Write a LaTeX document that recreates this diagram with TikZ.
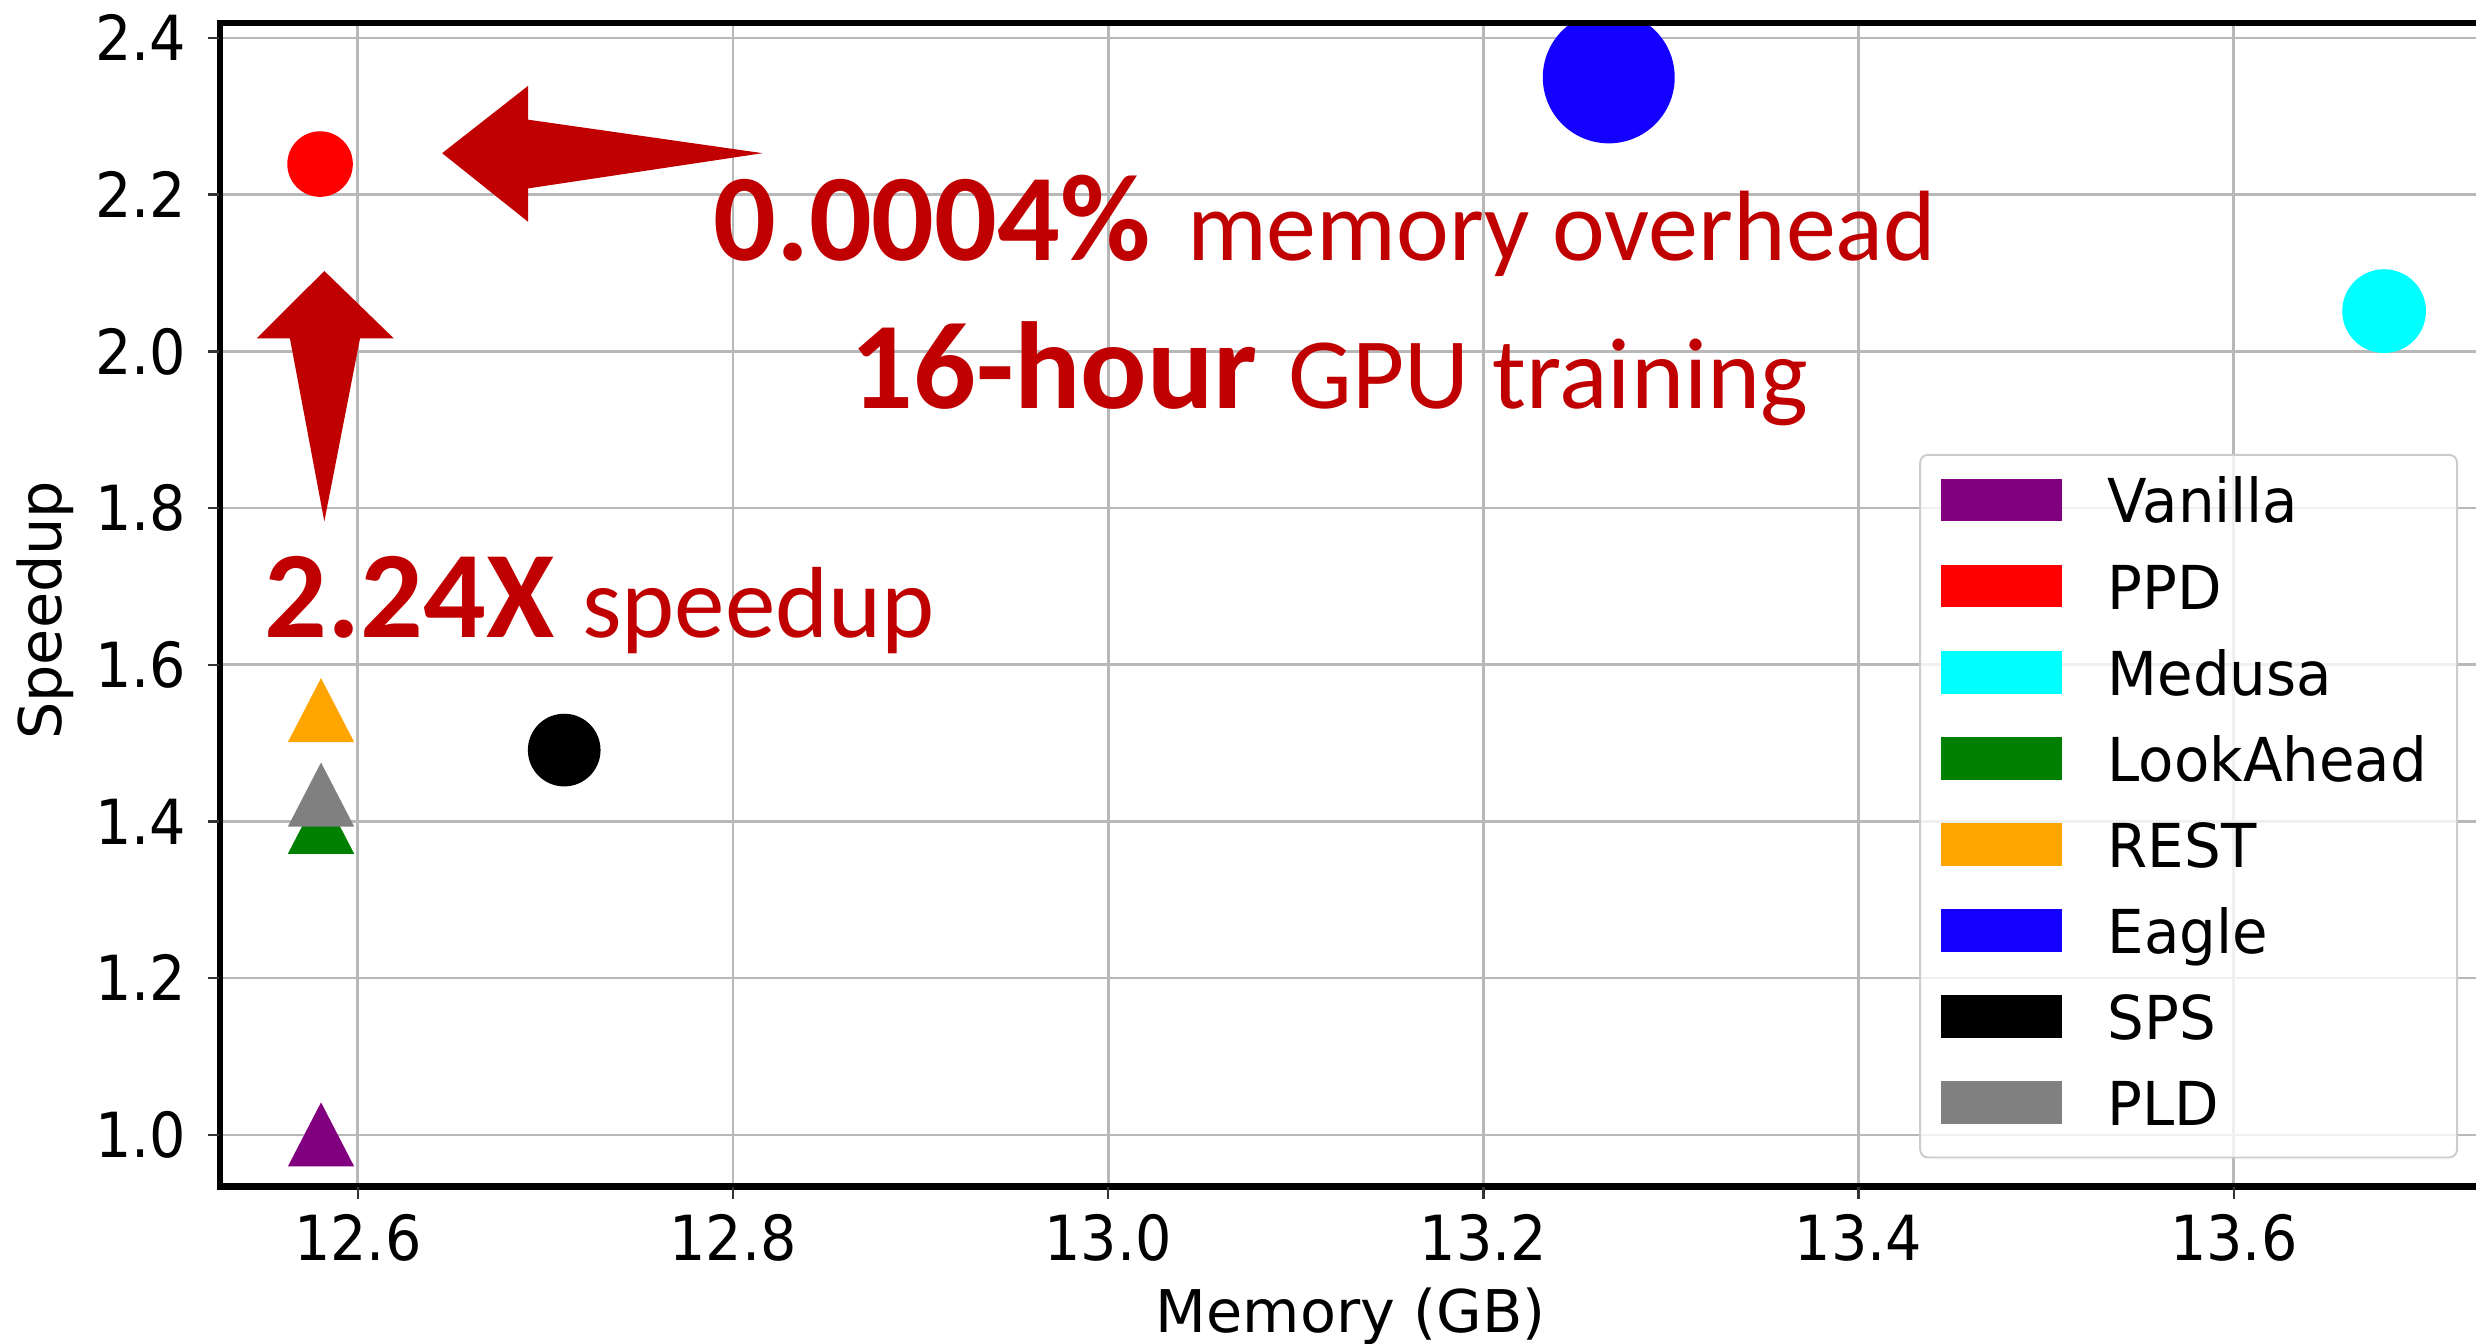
\documentclass[tikz,border=0pt]{standalone}
\usepackage{fontspec}
\setmainfont{DejaVu Sans}
\newfontfamily\tickfont[FakeStretch=0.92]{DejaVu Sans}
\newfontfamily\legfont[FakeStretch=0.955]{DejaVu Sans}
\newfontfamily\labfont{DejaVu Sans}
\newfontfamily\notefont{Carlito}

\definecolor{annot}{HTML}{C00000}
\definecolor{gridc}{HTML}{B8B8B8}
\definecolor{mplpurple}{HTML}{800080}
\definecolor{mplred}{HTML}{FF0000}
\definecolor{mplcyan}{HTML}{00FFFF}
\definecolor{mplgreen}{HTML}{008000}
\definecolor{mplorange}{HTML}{FFA500}
\definecolor{mplblue}{HTML}{1400FF}
\definecolor{mplblack}{HTML}{000000}
\definecolor{mplgray}{HTML}{808080}

\tikzset{
  gridline/.style={draw=gridc, line width=0.5pt},
  spine/.style={draw=black, line width=1.15pt},
  tickmark/.style={draw=black!80, line width=0.45pt},
  ticklabel/.style={inner sep=0pt, font=\tickfont\fontsize{11.2pt}{13pt}\selectfont},
  axlabel/.style={inner sep=0pt, font=\labfont\fontsize{10.6pt}{13pt}\selectfont},
  legtext/.style={inner sep=0pt, anchor=base west, font=\legfont\fontsize{10.9pt}{13pt}\selectfont},
  dot/.style={circle, inner sep=0pt, draw=none},
  note/.style={inner sep=0pt, anchor=base west, text=annot, font=\notefont},
}
\newcommand{\bignum}[1]{{\fontsize{22.3pt}{26pt}\selectfont\bfseries #1}}
\newcommand{\smalltxt}[1]{{\fontsize{18.2pt}{22pt}\selectfont #1}}

\begin{document}
\begin{tikzpicture}[x=0.01cm, y=-0.01cm]
  \useasboundingbox (0,0) rectangle (1568,851);
  \fill[white] (0,0) rectangle (1568,851);

  % plotting area: grid and markers are clipped to the axes
  \begin{scope}
    \clip (139.5,14.5) rectangle (1568,751.4);
    \foreach \gx in {226.6,464.2,701.8,939.4,1177,1414.6}
      \draw[gridline] (\gx,14.5) -- (\gx,751.4);
    \foreach \gy in {24,123.2,222.5,321.7,421,520.2,619.4,718.7}
      \draw[gridline] (139.5,\gy) -- (1568,\gy);

    % circle markers
    \node[dot, fill=mplred,   minimum size=0.415cm] (ppd)    at (202.7,103.9) {};
    \node[dot, fill=mplcyan,  minimum size=0.53cm]  (medusa) at (1509.8,197) {};
    \node[dot, fill=mplblue,  minimum size=0.835cm] (eagle)  at (1018.8,49) {};
    \node[dot, fill=mplblack, minimum size=0.46cm]  (sps)    at (357.3,475) {};

    % triangle markers
    \coordinate (vanilla)   at (203.3,718.4);
    \coordinate (lookahead) at (203.3,520.4);
    \coordinate (rest)      at (203.3,449.7);
    \coordinate (pld)       at (203.3,503.2);
    \foreach \c/\col in {vanilla/mplpurple, lookahead/mplgreen, rest/mplorange, pld/mplgray}
      \fill[\col, shift={(\c)}] (0,-20.3) -- (21,20.3) -- (-21,20.3) -- cycle;
  \end{scope}

  % spines
  \draw[spine, line cap=rect] (1568,14.5) -- (139.5,14.5) -- (139.5,751.4) -- (1568,751.4);

  % x ticks and labels
  \foreach \gx/\lab in {226.6/12.6, 464.2/12.8, 701.8/13.0, 939.4/13.2, 1177/13.4, 1414.6/13.6} {
    \draw[tickmark] (\gx,752) -- (\gx,759.5);
    \node[ticklabel, anchor=base] (xt-\lab) at (\gx,798) {\lab};
  }
  % y ticks and labels
  \foreach \gy/\lab in {24/2.4, 123.2/2.2, 222.5/2.0, 321.7/1.8, 421/1.6, 520.2/1.4, 619.4/1.2, 718.7/1.0} {
    \draw[tickmark] (139,\gy) -- (131.5,\gy);
    \node[ticklabel, anchor=base east] (yt-\lab) at (118.5,\gy+14.5) {\lab};
  }

  % axis labels
  \node[axlabel, anchor=base] (xlabel) at (855.5,844) {Memory (GB)};
  \node[axlabel, anchor=base, rotate=90] (ylabel) at (39,386.5) {Speedup};

  % legend
  \draw[draw=black!20, line width=0.35pt, fill=white, fill opacity=0.8, rounded corners=0.05cm]
    (1216,288) rectangle (1556,733);
  \foreach \i/\name/\col in {0/Vanilla/mplpurple, 1/PPD/mplred, 2/Medusa/mplcyan, 3/LookAhead/mplgreen,
                             4/REST/mplorange, 5/Eagle/mplblue, 6/SPS/mplblack, 7/PLD/mplgray} {
    \fill[\col] (1229,316.7+\i*54.5-13.5) rectangle (1306,316.7+\i*54.5+13.5);
    \node[legtext] (leg-\i) at (1334,316.7+\i*54.5+14.5) {\name};
  }

  % red annotation arrows pointing at the PPD marker
  \fill[annot] (280,97) -- (334.5,54.3) -- (334.5,75.8) -- (483,97)
               -- (334.5,119.3) -- (334.5,140.5) -- cycle;
  \fill[annot] (205.4,171.6) -- (249.4,214.3) -- (228,214.3) -- (205.4,330.2)
               -- (183.6,214.3) -- (162.5,214.3) -- cycle;

  % annotation texts
  \node[note] (memnote)   at (451,164.7) {\bignum{0.0004\%}\hspace{6.6pt}{\fontsize{18pt}{22pt}\selectfont memory overhead}};
  \node[note] (trainnote) at (538,258.6) {\bignum{16-hour}\hspace{5.6pt}\smalltxt{GPU training}};
  \node[note] (speednote) at (167,403.6) {\bignum{2.24X}\hspace{5pt}\smalltxt{speedup}};
\end{tikzpicture}
\end{document}
